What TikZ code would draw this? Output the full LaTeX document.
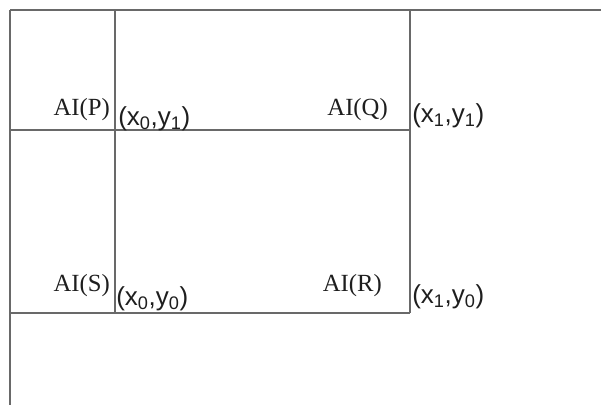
\documentclass[tikz,border=0pt]{standalone}
\usepackage{fontspec}
\setmainfont{Liberation Serif}
\setsansfont{Liberation Sans}
\usepackage{xcolor}
\usetikzlibrary{positioning}
\definecolor{gridgray}{RGB}{105,105,105}
\definecolor{textgray}{RGB}{30,30,30}

\begin{document}
\begin{tikzpicture}[
    x=0.75pt, y=-0.75pt,
    % Styles
    gridline/.style={draw=gridgray, line width=1.1pt},
    cornerlabel/.style={font=\fontsize{18.5}{21}\selectfont, text=textgray, inner sep=0pt, anchor=base east},
    coordlabel/.style={font=\sffamily\fontsize{19.5}{22}\selectfont, text=textgray, inner sep=0pt, anchor=base west}
]
\useasboundingbox (0,0) rectangle (601,405);

% ----------------------------------------------------
% Grid points
% ----------------------------------------------------
\coordinate (topleft) at (10,10);
\coordinate (topright) at (601,10);
\coordinate (bottomleft) at (10,405);
\coordinate (leftmid) at (10,130);
\coordinate (leftlow) at (10,313);
\coordinate (topx0) at (115,10);
\coordinate (topx1) at (410,10);
\coordinate (q01) at (115,130);
\coordinate (q11) at (410,130);
\coordinate (q00) at (115,313);
\coordinate (q10) at (410,313);

% ----------------------------------------------------
% Lines
% ----------------------------------------------------
\draw[gridline] (topleft) -- (topright);
\draw[gridline] (topleft) -- (bottomleft);
\draw[gridline] (leftmid) -- (q11);
\draw[gridline] (leftlow) -- (q10);
\draw[gridline] (topx0) -- (q00);
\draw[gridline] (topx1) -- (q10);

% ----------------------------------------------------
% Labels
% ----------------------------------------------------
\node[cornerlabel] (aip) at (110,115) {AI(P)};
\node[cornerlabel] (aiq) at (388,115) {AI(Q)};
\node[cornerlabel] (ais) at (110,291) {AI(S)};
\node[cornerlabel] (air) at (382,291) {AI(R)};

\node[coordlabel] (lx0y1) at (118,125) {(x\textsubscript{0},y\textsubscript{1})};
\node[coordlabel] (lx1y1) at (412,122) {(x\textsubscript{1},y\textsubscript{1})};
\node[coordlabel] (lx0y0) at (116,305) {(x\textsubscript{0},y\textsubscript{0})};
\node[coordlabel] (lx1y0) at (412,303) {(x\textsubscript{1},y\textsubscript{0})};

\end{tikzpicture}
\end{document}
